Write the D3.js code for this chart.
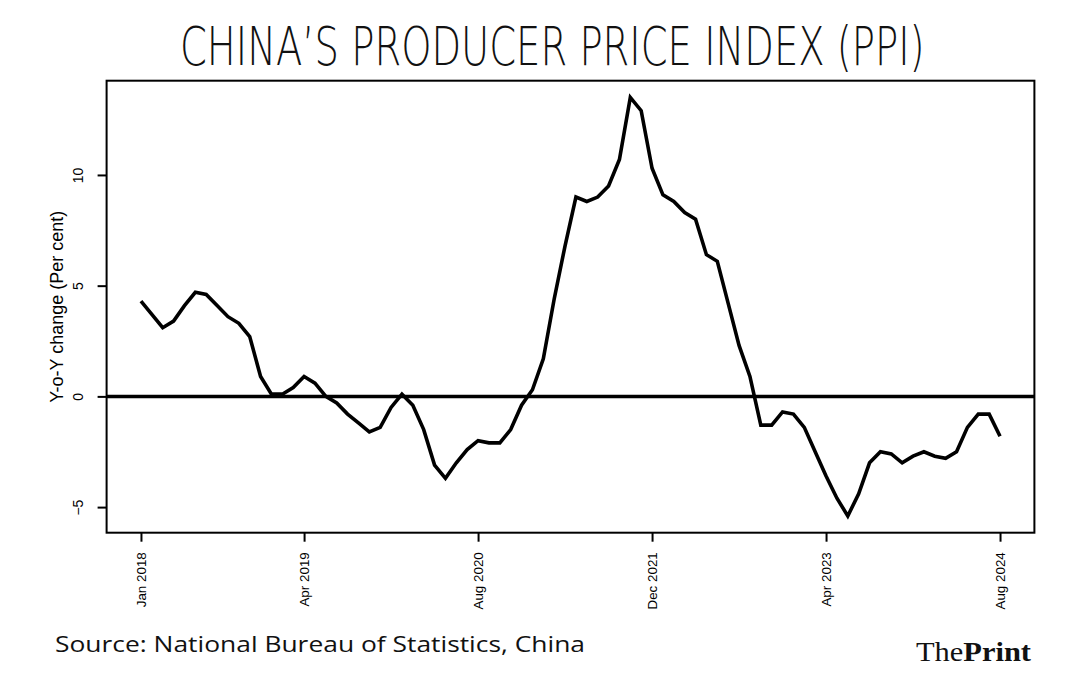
<!DOCTYPE html>
<html><head><meta charset="utf-8">
<script src="https://cdn.jsdelivr.net/npm/d3@7"></script>
<style>body{margin:0;background:#fff}svg{display:block}</style>
</head><body>
<script>
const ppi = [
  4.3,3.7,3.1,3.4,4.1,4.7,4.6,4.1,3.6,3.3,2.7,0.9,
  0.1,0.1,0.4,0.9,0.6,0.0,-0.3,-0.8,-1.2,-1.6,-1.4,-0.5,
  0.1,-0.4,-1.5,-3.1,-3.7,-3.0,-2.4,-2.0,-2.1,-2.1,-1.5,-0.4,
  0.3,1.7,4.4,6.8,9.0,8.8,9.0,9.5,10.7,13.5,12.9,10.3,
  9.1,8.8,8.3,8.0,6.4,6.1,4.2,2.3,0.9,-1.3,-1.3,-0.7,
  -0.8,-1.4,-2.5,-3.6,-4.6,-5.4,-4.4,-3.0,-2.5,-2.6,-3.0,-2.7,
  -2.5,-2.7,-2.8,-2.5,-1.4,-0.8,-0.8,-1.8
];
const xTickLabels = ["Jan 2018","Apr 2019","Aug 2020","Dec 2021","Apr 2023","Aug 2024"];
const xTickIdx = [0,15,31,47,63,79];
const yTicks = [-5,0,5,10];
const titleText = "CHINA\u2019S PRODUCER PRICE INDEX (PPI)";
const yLabel = "Y-o-Y change (Per cent)";
const sourceText = "Source: National Bureau of Statistics, China";

const W = 1078, H = 677;
const L = 106.6, R = 1034.4, T = 80.7, B = 532.7;
const svg = d3.select("body").append("svg").attr("width", W).attr("height", H);
const sansR = "'Liberation Sans', Arial, Helvetica, sans-serif";

const n = ppi.length;
const xPad = (n-1)*0.04;
const x = d3.scaleLinear().domain([-xPad, n-1+xPad]).range([L, R]);
const ymin = d3.min(ppi), ymax = d3.max(ppi), yPad = (ymax-ymin)*0.04;
const y = d3.scaleLinear().domain([ymin-yPad, ymax+yPad]).range([B, T]);

// title (horizontally condensed via scale)
const tg = svg.append("g");
const tt = tg.append("text").attr("x", 0).attr("y", 0)
  .style("font-family", "'DejaVu Sans', sans-serif").style("font-weight", 200)
  .style("font-size", "54px").attr("fill", "#111").text(titleText);
const tw = tt.node().getComputedTextLength();
tg.attr("transform", `translate(180,65) scale(${745/tw},1)`);

// zero line
svg.append("line").attr("x1", L).attr("x2", R).attr("y1", y(0)).attr("y2", y(0))
  .attr("stroke", "#000").attr("stroke-width", 3.5);

// data line
const line = d3.line().x((d,i)=>x(i)).y(d=>y(d));
svg.append("path").datum(ppi).attr("d", line).attr("fill", "none")
  .attr("stroke", "#000").attr("stroke-width", 3.6).attr("stroke-linejoin", "miter").attr("stroke-miterlimit", 3);

// box
svg.append("rect").attr("x", L).attr("y", T).attr("width", R-L).attr("height", B-T)
  .attr("fill", "none").attr("stroke", "#000").attr("stroke-width", 2);

// y axis
const yAxis = d3.axisLeft(y).tickValues(yTicks).tickSize(9).tickFormat(d3.format("d"));
const ya = svg.append("g").attr("transform", `translate(${L},0)`).call(yAxis);
ya.select(".domain").remove();
ya.selectAll(".tick line").attr("stroke-width", 2);
ya.selectAll(".tick text").attr("transform", "rotate(-90)")
  .attr("x", 0).attr("dy", 0).attr("y", -23.5).attr("text-anchor", "middle")
  .style("font-family", sansR).style("font-size", "14px").attr("fill", "#000");

// x axis
const xAxis = d3.axisBottom(x).tickValues(xTickIdx).tickSize(9)
  .tickFormat((d,i)=>xTickLabels[i]);
const xa = svg.append("g").attr("transform", `translate(0,${B})`).call(xAxis);
xa.select(".domain").remove();
xa.selectAll(".tick line").attr("stroke-width", 2);
xa.selectAll(".tick text").attr("transform", "rotate(-90)")
  .attr("x", -19.5).attr("y", 0).attr("dy", "0.36em").attr("text-anchor", "end")
  .style("font-family", sansR).style("font-size", "13.4px").attr("fill", "#000");

// y label
svg.append("text").attr("transform", `translate(62.5,${(T+B)/2}) rotate(-90)`)
  .attr("text-anchor", "middle")
  .style("font-family", sansR).style("font-size", "18px").attr("fill", "#000")
  .text(yLabel);

// source
svg.append("text").attr("x", 55).attr("y", 652)
  .attr("textLength", 530).attr("lengthAdjust", "spacingAndGlyphs")
  .style("font-family", "'Open Sans', sans-serif").style("font-size", "22px").attr("fill", "#111")
  .text(sourceText);

// logo
const logo = svg.append("text").attr("x", 916).attr("y", 661)
  .attr("textLength", 115).attr("lengthAdjust", "spacingAndGlyphs")
  .style("font-family", "'Liberation Serif', 'DejaVu Serif', serif").style("font-size", "27px").attr("fill", "#111");
logo.append("tspan").text("The");
logo.append("tspan").style("font-weight", "bold").text("Print");
</script>
</body></html>
